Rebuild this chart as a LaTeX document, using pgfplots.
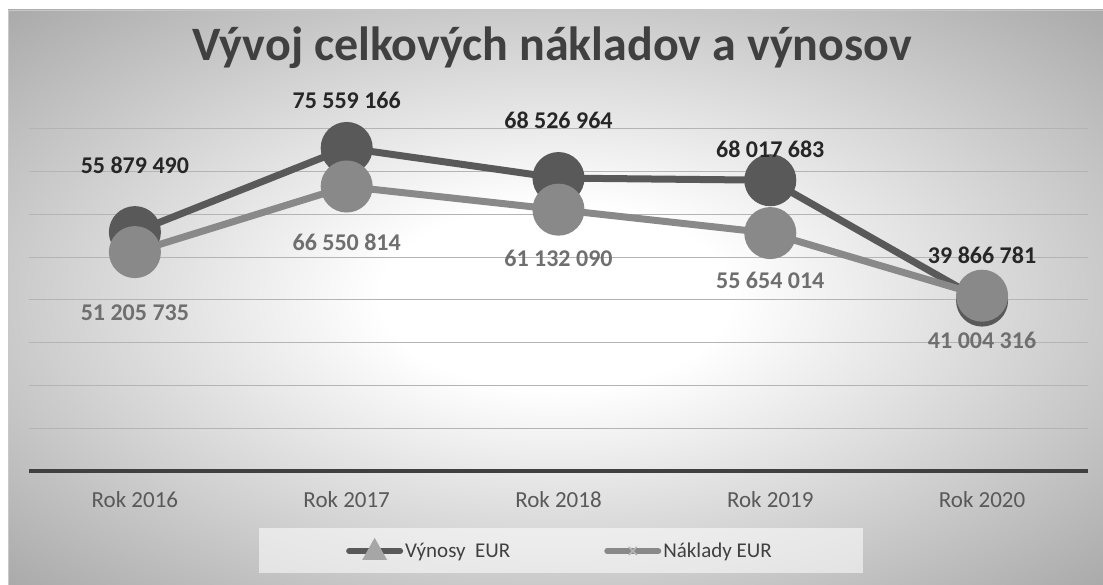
\documentclass[border=0pt]{standalone}
\usepackage{fontspec}
\setmainfont{Carlito}
\usepackage{pgfplots}
\usepackage{pgfplotstable}
\pgfplotsset{compat=1.18}
\definecolor{vync}{HTML}{595959}
\definecolor{nakc}{HTML}{898989}
\definecolor{vynlab}{HTML}{262626}
\definecolor{naklab}{HTML}{6F6F6F}
\definecolor{titlec}{HTML}{404040}
\definecolor{tickc}{HTML}{595959}
\definecolor{gridc}{HTML}{B4B4B4}
\definecolor{axisc}{HTML}{404040}
\definecolor{bgouter}{HTML}{A8A8A8}
\definecolor{legtri}{HTML}{A6A6A6}
\definecolor{legx}{HTML}{B5B5B5}
\definecolor{legtext}{HTML}{404040}
\definecolor{framec}{HTML}{C8C8C8}
\pgfdeclareradialshading{bgshade}{\pgfpoint{0bp}{0bp}}{color(0bp)=(white); color(8bp)=(white); color(36bp)=(bgouter); color(50bp)=(bgouter)}

\pgfplotstableread[col sep=comma]{
x,y,dy,lab
0,55879490,67,55 879 490
1,75559166,48,75 559 166
2,68526964,58,68 526 964
3,68017683,31,68 017 683
4,39866781,45,39 866 781
}\vyn
\pgfplotstableread[col sep=comma]{
x,y,dy,lab
0,51205735,-61,51 205 735
1,66550814,-56,66 550 814
2,61132090,-49,61 132 090
3,55654014,-47,55 654 014
4,41004316,-45,41 004 316
}\nak

\begin{document}
\begin{tikzpicture}
\useasboundingbox (0,0) rectangle (1103pt,585pt);
\fill[white] (0,0) rectangle (1103pt,585pt);
\shade[shading=bgshade] (8pt,0pt) rectangle (1103pt,575pt);
\draw[framec, line width=0.75pt] (8.4pt,0pt) -- (8.4pt,574.6pt) -- (1103pt,574.6pt);
\fill[white, opacity=0.55] (259pt,12pt) rectangle (863pt,57pt);
\node[font=\fontsize{48}{48}\selectfont\bfseries, text=titlec, anchor=base] at (552pt,524pt) {Vývoj celkových nákladov a výnosov};
\begin{axis}[
  at={(29pt,114pt)}, anchor=south west,
  scale only axis, width=1059pt, height=342pt,
  xmin=-0.5, xmax=4.5, ymin=0, ymax=80000000,
  xtick={0,1,2,3,4},
  xticklabels={Rok 2016,Rok 2017,Rok 2018,Rok 2019,Rok 2020},
  ytick={10000000,20000000,30000000,40000000,50000000,60000000,70000000,80000000},
  yticklabels={}, scaled y ticks=false,
  ymajorgrids, grid style={gridc, line width=1pt},
  extra y ticks={0}, extra y tick labels={},
  extra y tick style={grid style={axisc, line width=4pt}},
  axis line style={draw=none}, tick style={draw=none}, major tick length=0pt,
  xticklabel style={font=\fontsize{23}{23}\selectfont, text=tickc, anchor=base, yshift=-37pt},
  clip=false,
  legend columns=2,
  legend style={at={(0.2993,-0.2339)}, anchor=west, draw=none, fill=none,
    inner sep=0pt, font=\fontsize{21}{21}\selectfont, nodes={text=legtext},
    /tikz/every even column/.append style={column sep=92pt}},
  point meta=explicit symbolic,
  nodes near coords={\pgfplotspointmeta},
]
\addplot[vync, line width=7pt, mark=*, mark size=22.5pt,
  mark options={draw=none, fill=vync},
  visualization depends on={\thisrow{dy} \as \dy},
  nodes near coords style={anchor=center, yshift=\dy pt, font=\fontsize{24}{24}\selectfont\bfseries, text=vynlab},
  legend image code/.code={
    \draw[line width=6pt, line cap=round, vync] (3pt,0pt) -- (54pt,0pt);
    \fill[legtri] (22pt,-5.5pt) -- (35pt,-5.5pt) -- (28.5pt,6pt) -- cycle;
  }]
  table[x=x, y=y, meta=lab] {\vyn};
\addlegendentry{Výnosy\ \ EUR}
\addplot[nakc, line width=7pt, mark=*, mark size=22.5pt,
  mark options={draw=none, fill=nakc},
  visualization depends on={\thisrow{dy} \as \dy},
  nodes near coords style={anchor=center, yshift=\dy pt, font=\fontsize{24}{24}\selectfont\bfseries, text=naklab},
  legend image code/.code={
    \draw[line width=6pt, line cap=round, nakc] (3pt,0pt) -- (54pt,0pt);
    \draw[legx, line width=1.5pt] (24.5pt,-4pt) -- (32.5pt,4pt) (24.5pt,4pt) -- (32.5pt,-4pt);
  }]
  table[x=x, y=y, meta=lab] {\nak};
\addlegendentry{Náklady EUR}
\end{axis}
\end{tikzpicture}
\end{document}
